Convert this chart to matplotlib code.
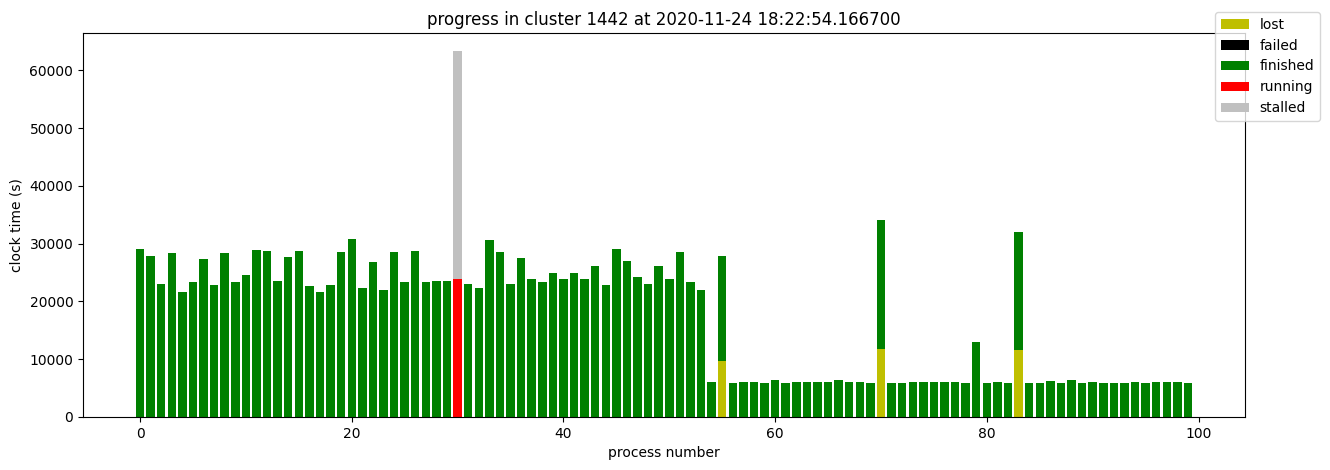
import numpy as np
import matplotlib
matplotlib.use("Agg")
import matplotlib.pyplot as plt

# process numbers 0..99
procs = list(range(100))

# finished clock time per process (s)
finished = [
    29000, 27900, 23100, 28450, 21550, 23300, 27400, 22900, 28450, 23300,
    24650, 28950, 28800, 23600, 27750, 28800, 22750, 21700, 22900, 28600,
    30850, 22400, 26900, 21900, 28600, 23300, 28800, 23450, 23600, 23600,
    0, 23100, 22400, 30700, 28600, 23100, 27600, 23800, 23300, 25000,
    23950, 25000, 23800, 26200, 22900, 29150, 27050, 24300, 23100, 26200,
    23950, 28600, 23300, 22050, 6000, 18300, 5850, 6000, 6000, 5850,
    6400, 5850, 6000, 6000, 6000, 6000, 6400, 6000, 6000, 5850,
    22400, 5850, 5850, 6000, 6000, 6000, 6000, 6000, 5850, 12950,
    5850, 6000, 5850, 20500, 5850, 5850, 6200, 5850, 6400, 5850,
    6000, 5850, 5850, 5850, 6000, 5850, 6000, 6000, 6000, 5850,
]

# sparse states: process index -> time
lost_idx = [55, 70, 83]
lost_val = [9650, 11700, 11550]
failed_idx = []
failed_val = []
running_idx = [30]
running_val = [23800]
stalled_idx = [30]
stalled_val = [39500]

n = len(procs)

def fill(idx, val):
    a = np.zeros(n)
    a[idx] = val
    return a

lost = fill(lost_idx, lost_val)
failed = fill(failed_idx, failed_val)
fin = np.array(finished, dtype=float)
running = fill(running_idx, running_val)
stalled = fill(stalled_idx, stalled_val)

fig = plt.figure(figsize=(13.3, 4.7), dpi=100)
ax = fig.add_axes([0.0624, 0.1128, 0.8737, 0.8170])

bottom = np.zeros(n)
for vals, col, lab in [(lost, 'y', 'lost'), (failed, 'k', 'failed'),
                       (fin, 'g', 'finished'), (running, 'r', 'running'),
                       (stalled, 'silver', 'stalled')]:
    ax.bar(procs, vals, bottom=bottom, color=col, label=lab)
    bottom = bottom + vals

ax.set_title("progress in cluster 1442 at 2020-11-24 18:22:54.166700")
ax.set_xlabel("process number")
ax.set_ylabel("clock time (s)")

fig.legend(loc='upper right', bbox_to_anchor=(1320 / 1330, 1 - 12 / 470),
           borderaxespad=0)

fig.savefig("out.png", dpi=100)
